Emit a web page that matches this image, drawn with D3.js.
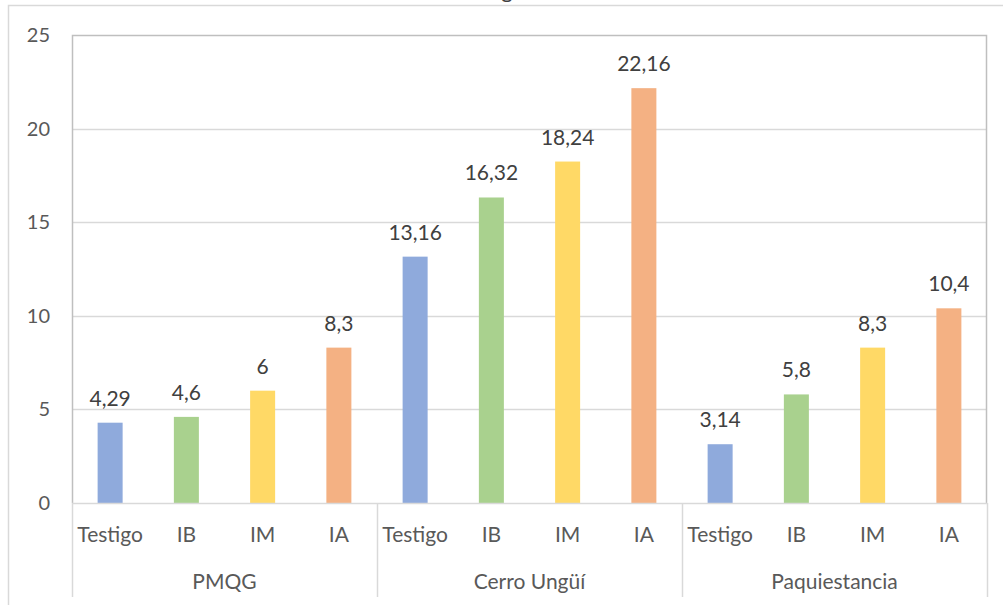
<!DOCTYPE html>
<html>
<head>
<meta charset="utf-8">
<script src="https://cdn.jsdelivr.net/npm/d3@7"></script>
<style>
  html, body { margin: 0; padding: 0; background: #fff; }
  svg { display: block; }
  text { font-family: Lato, "Open Sans", sans-serif; fill: #595959; }
</style>
</head>
<body>
<svg id="chart" width="1003" height="605"></svg>
<script>
// Sites and treatments
const sites = ["PMQG", "Cerro Ungüí", "Paquiestancia"];
const treatments = ["Testigo", "IB", "IM", "IA"];
// Values per site, in treatment order
const pmqg = [4.29, 4.6, 6, 8.3];
const cerroUngui = [13.16, 16.32, 18.24, 22.16];
const paquiestancia = [3.14, 5.8, 8.3, 10.4];
const yTicks = [0, 5, 10, 15, 20, 25];
const colors = ["#8FAADC", "#A9D18E", "#FFD966", "#F4B183"];

const rows = [pmqg, cerroUngui, paquiestancia].flatMap((vals, si) =>
  vals.map((v, ti) => ({ site: sites[si], treatment: treatments[ti], ti, value: v }))
);

const svg = d3.select("#chart");
const plotLeft = 72, plotRight = 987, plotTop = 35, plotBottom = 503;

// Outer chart frame
svg.append("rect").attr("x", 8.5).attr("y", 5.5).attr("width", 1010).attr("height", 620)
  .attr("fill", "none").attr("stroke", "#d9d9d9").attr("stroke-width", 1.5);

// Title (sits above the visible area)
svg.append("text").attr("x", 507).attr("y", -2).attr("text-anchor", "middle")
  .style("font-size", "22px").style("fill", "#404040").text("g");

const x0 = d3.scaleBand().domain(sites).range([plotLeft, plotRight]);
const x1 = d3.scaleBand().domain(treatments).range([0, x0.bandwidth()]).paddingInner(0.672).paddingOuter(0.336);
const y = d3.scaleLinear().domain([0, 25]).range([plotBottom, plotTop]);

// Gridlines
svg.append("g").selectAll("line").data(yTicks.slice(1, -1)).join("line")
  .attr("x1", plotLeft).attr("x2", plotRight)
  .attr("y1", d => Math.round(y(d)) + 0.5).attr("y2", d => Math.round(y(d)) + 0.5)
  .attr("stroke", "#d9d9d9").attr("stroke-width", 1.5);

// Y axis labels
const yAxis = d3.axisLeft(y).tickValues(yTicks).tickSize(0).tickPadding(22);
const ya = svg.append("g").attr("transform", `translate(${plotLeft},0)`).call(yAxis);
ya.select(".domain").remove();
ya.selectAll("text").style("font-size", "20px").style("font-family", "Lato, sans-serif").style("fill", "#595959");

// Bars
svg.append("g").selectAll("rect").data(rows).join("rect")
  .attr("x", d => x0(d.site) + x1(d.treatment))
  .attr("width", x1.bandwidth())
  .attr("y", d => y(d.value))
  .attr("height", d => y(0) - y(d.value))
  .attr("fill", d => colors[d.ti]);

// Value labels
const fmt = v => String(v).replace(".", ",");
svg.append("g").selectAll("text").data(rows).join("text")
  .attr("x", d => x0(d.site) + x1(d.treatment) + x1.bandwidth() / 2)
  .attr("y", d => y(d.value) - 17)
  .attr("text-anchor", "middle")
  .style("font-size", "21px").style("fill", "#404040")
  .text(d => fmt(d.value));

// Plot area border (top, left, right)
svg.append("path")
  .attr("d", `M${plotLeft + 0.5},${plotBottom}V${plotTop + 0.5}H${plotRight - 0.5}V${plotBottom}`)
  .attr("fill", "none").attr("stroke", "#bfbfbf").attr("stroke-width", 1.5);

// Category axis line
svg.append("line").attr("x1", plotLeft).attr("x2", plotRight)
  .attr("y1", plotBottom + 0.5).attr("y2", plotBottom + 0.5)
  .attr("stroke", "#d9d9d9").attr("stroke-width", 1.5);

// Group separators below the axis
const seps = sites.map(s => x0(s)).concat([plotRight]);
svg.append("g").selectAll("line").data(seps).join("line")
  .attr("x1", d => Math.round(d) + 0.5).attr("x2", d => Math.round(d) + 0.5)
  .attr("y1", plotBottom).attr("y2", 597)
  .attr("stroke", "#d9d9d9").attr("stroke-width", 1.5);

// Treatment labels
svg.append("g").selectAll("text").data(rows).join("text")
  .attr("x", d => x0(d.site) + x1(d.treatment) + x1.bandwidth() / 2)
  .attr("y", 542)
  .attr("text-anchor", "middle")
  .style("font-size", "21px")
  .text(d => d.treatment);

// Site labels
svg.append("g").selectAll("text").data(sites).join("text")
  .attr("x", d => x0(d) + x0.bandwidth() / 2)
  .attr("y", 589)
  .attr("text-anchor", "middle")
  .style("font-size", "21px")
  .text(d => d);
</script>
</body>
</html>
